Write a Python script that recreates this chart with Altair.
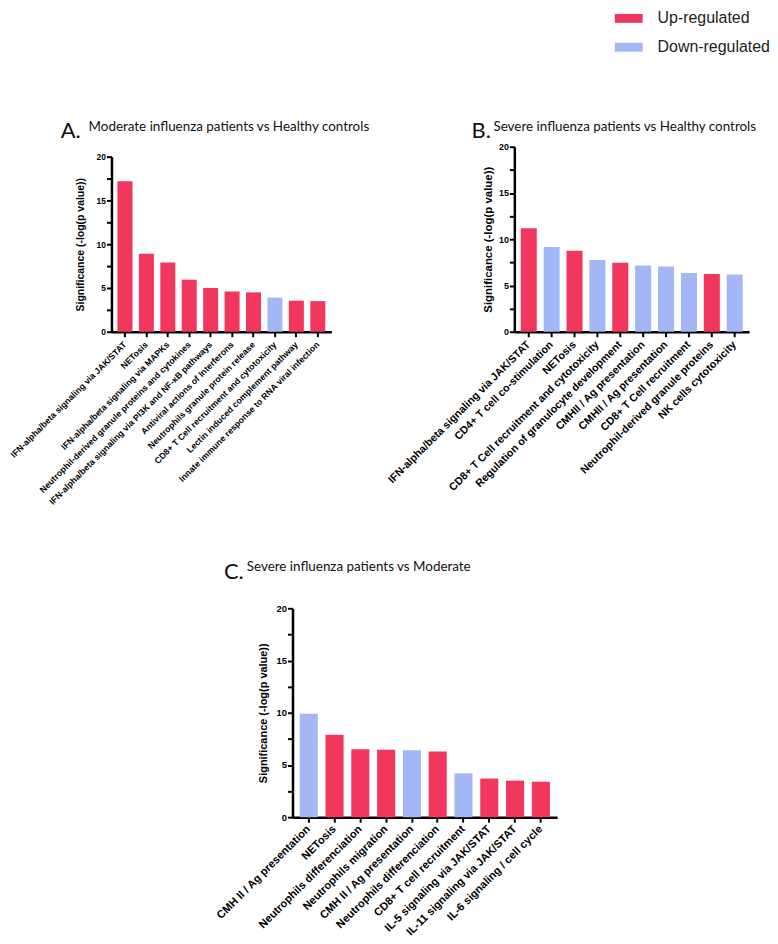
import json
import altair as alt
import pandas as pd

UP = "Up-regulated"
DOWN = "Down-regulated"
RED = "#F2375F"
BLUE = "#A3B6F6"

# Panel A: Moderate influenza patients vs Healthy controls
a_labels = [
    "IFN-alpha/beta signaling via JAK/STAT",
    "NETosis",
    "IFN-alpha/beta signaling via MAPKs",
    "Neutrophil-derived granule proteins and cytokines",
    "IFN-alpha/beta signaling via PI3K and NF-κB pathways",
    "Antiviral actions of Interferons",
    "Neutrophils granule protein release",
    "CD8+ T Cell recruitment and cytotoxicity",
    "Lectin induced complement pathway",
    "Innate immune response to RNA viral infection",
]
a_values = [17.2, 8.9, 7.9, 5.95, 5.0, 4.6, 4.5, 3.9, 3.55, 3.5]
a_reg = [UP, UP, UP, UP, UP, UP, UP, DOWN, UP, UP]

# Panel B: Severe influenza patients vs Healthy controls
b_labels = [
    "IFN-alpha/beta signaling via JAK/STAT",
    "CD4+ T cell co-stimulation",
    "NETosis",
    "CD8+ T Cell recruitment and cytotoxicity",
    "Regulation of granulocyte development",
    "CMHII / Ag presentation",
    "CMHII / Ag presentation",
    "CD8+ T Cell recruitment",
    "Neutrophil-derived granule proteins",
    "NK cells cytotoxicity",
]
b_values = [11.2, 9.15, 8.75, 7.75, 7.45, 7.15, 7.05, 6.35, 6.25, 6.2]
b_reg = [UP, DOWN, UP, DOWN, UP, DOWN, DOWN, DOWN, UP, DOWN]

# Panel C: Severe influenza patients vs Moderate
c_labels = [
    "CMH II / Ag presentation",
    "NETosis",
    "Neutrophils differenciation",
    "Neutrophils migration",
    "CMH II / Ag presentation",
    "Neutrophils differenciation",
    "CD8+ T cell recruitment",
    "IL-5 signaling via JAK/STAT",
    "IL-11 signaling via JAK/STAT",
    "IL-6 signaling / cell cycle",
]
c_values = [9.9, 7.9, 6.5, 6.45, 6.4, 6.3, 4.2, 3.7, 3.5, 3.4]
c_reg = [DOWN, UP, UP, UP, DOWN, UP, DOWN, UP, UP, UP]

y_ticks = [0, 2.5, 5, 7.5, 10, 12.5, 15, 17.5, 20]

FONT = "Liberation Sans"
TFONT = "Lato"

legend = alt.Legend(
    title=None, orient="none", legendX=512, legendY=-136,
    symbolType="M-1.75,-0.56H1.75V0.56H-1.75Z", symbolSize=256, symbolStrokeWidth=0,
    symbolOpacity=1, labelFont=FONT, labelFontSize=16, labelColor="#222222",
    labelOffset=21, rowPadding=13, labelLimit=300,
)


def panel(labels, values, regs, w, h, xlab, xpad, ylab, ytitle, ypad, text, tdx, tdy, toff):
    df = pd.DataFrame({"idx": list(range(len(labels))), "value": values, "reg": regs})
    return alt.Chart(df).mark_bar().encode(
        x=alt.X(
            "idx:O",
            scale=alt.Scale(paddingInner=0.3, paddingOuter=0.28),
            axis=alt.Axis(
                title=None, labelExpr=json.dumps(labels) + "[datum.value]",
                labelAngle=-45, labelAlign="right", labelBaseline="middle",
                labelFont=FONT, labelFontSize=xlab, labelFontWeight="bold",
                labelPadding=xpad, labelLimit=500, tickSize=5, tickWidth=2,
                domainWidth=2.5,
            ),
        ),
        y=alt.Y(
            "value:Q",
            scale=alt.Scale(domain=[0, 20], nice=False),
            axis=alt.Axis(
                values=y_ticks,
                labelExpr="datum.value % 5 === 0 ? datum.label : ''",
                title="Significance (-log(p value))", titleFont=FONT,
                titleFontSize=ytitle, titleFontWeight="bold", titlePadding=ypad,
                labelFont=FONT, labelFontSize=ylab, labelFontWeight="bold",
                labelPadding=1, tickSize=5, tickWidth=2, domainWidth=2.5,
            ),
        ),
        color=alt.Color("reg:N", scale=alt.Scale(domain=[UP, DOWN], range=[RED, BLUE]),
                        legend=legend),
    ).properties(
        width=w, height=h,
        title=alt.TitleParams(text, anchor="start", frame="group", dx=tdx, dy=tdy,
                              offset=toff, font=TFONT, fontSize=13.5,
                              fontWeight="normal", baseline="alphabetic",
                              color="#111111"),
    )


def spacer(w, h, letter, anchor, dx, dy, off):
    return alt.Chart(pd.DataFrame({"s": [0]})).mark_point(opacity=0, size=1).encode(
        x=alt.value(0), y=alt.value(0)
    ).properties(
        width=w, height=h,
        title=alt.TitleParams(letter, anchor=anchor, frame="group", dx=dx, dy=dy,
                              offset=off, font=TFONT, fontSize=22,
                              fontWeight="normal", baseline="alphabetic",
                              color="#111111"),
    )


chart_a = panel(a_labels, a_values, a_reg, 221, 176, 8.8, 6, 8.5, 10.5, 11,
                "Moderate influenza patients vs Healthy controls", -23, 13, 21)
chart_b = panel(b_labels, b_values, b_reg, 236, 186, 10.8, 6, 9, 11.5, 5,
                "Severe influenza patients vs Healthy controls", -21, 13, 11)
chart_c = panel(c_labels, c_values, c_reg, 266, 210, 11.1, 5, 9.5, 11, 7.5,
                "Severe influenza patients vs Moderate", -46, 12, 31)

a_col = alt.vconcat(spacer(1, 11, "A.", "start", -51, 24, 9), chart_a,
                    spacing=0, bounds="flush")
b_col = alt.vconcat(spacer(1, 1, "B.", "start", -43, 24, 9), chart_b,
                    spacing=0, bounds="flush")
top = alt.hconcat(a_col, b_col, spacing=405, bounds="flush")
bottom = alt.hconcat(spacer(182, 1, "C.", "end", -49, 28, 35), chart_c,
                     spacing=0, bounds="flush")

chart = alt.vconcat(top, bottom, spacing=465, bounds="flush").properties(
    padding={"left": 0, "top": 0, "right": 0, "bottom": 0}
).configure_view(stroke=None).configure_axis(
    grid=False, domainColor="black", tickColor="black", labelColor="black",
    titleColor="black",
)

chart.save("out.html", embed_options={"renderer": "svg", "actions": False})
